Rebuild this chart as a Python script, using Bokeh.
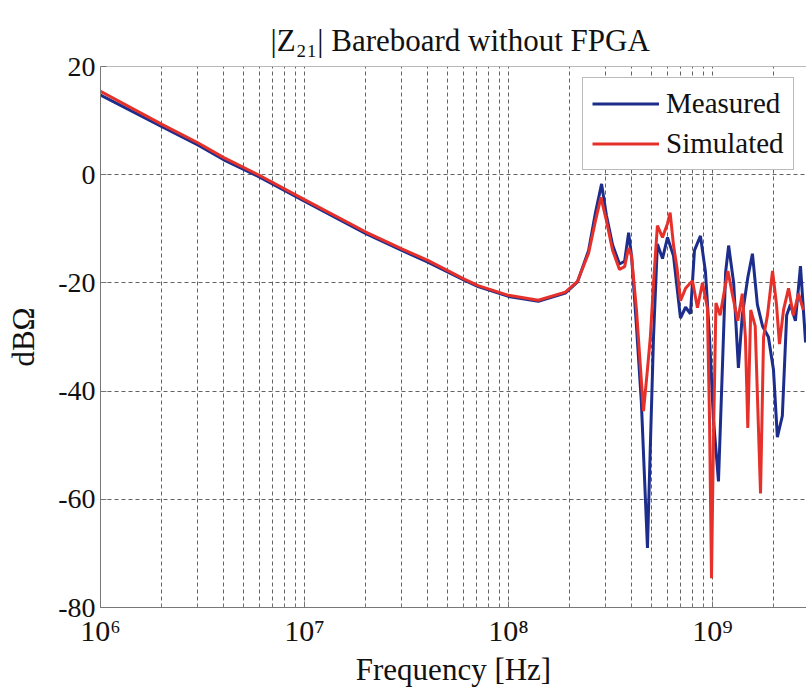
from bokeh.plotting import figure
from bokeh.models import FixedTicker, Legend, LegendItem, Span, Range1d
from bokeh.embed import file_html
from bokeh.resources import INLINE

# ---- data ----
freq_measured = [1.0e6, 2.0e6, 3.0e6, 4.0e6, 6.0e6, 1.0e7, 2.0e7, 3.0e7, 4.0e7, 6.0e7,
                 7.1e7, 1.0e8, 1.4e8, 1.9e8, 2.18e8, 2.47e8, 2.67e8, 2.86e8, 3.02e8, 3.24e8,
                 3.50e8, 3.71e8, 3.88e8, 4.01e8, 4.24e8, 4.48e8, 4.80e8, 4.96e8, 5.14e8, 5.37e8,
                 5.69e8, 6.02e8, 6.44e8, 6.97e8, 7.38e8, 7.80e8, 8.16e8, 8.73e8, 9.24e8, 9.67e8,
                 1.01e9, 1.07e9, 1.12e9, 1.16e9, 1.20e9, 1.27e9, 1.34e9, 1.40e9, 1.49e9, 1.57e9,
                 1.66e9, 1.76e9, 1.88e9, 1.99e9, 2.08e9, 2.20e9, 2.31e9, 2.41e9, 2.55e9, 2.70e9,
                 2.86e9]
db_measured = [14.7, 8.9, 5.5, 2.8, -0.4, -4.9, -10.9, -14.0, -16.1, -19.4,
               -20.7, -22.5, -23.4, -21.9, -19.8, -14.0, -7.0, -1.7, -7.5, -13.0,
               -16.5, -16.0, -10.7, -15.0, -28.0, -42.0, -69.0, -50.0, -30.0, -12.8,
               -15.5, -11.6, -15.0, -26.5, -24.5, -25.7, -14.0, -11.3, -18.0, -30.0,
               -45.0, -56.7, -35.0, -18.0, -13.1, -20.0, -35.7, -26.0, -19.0, -14.6,
               -24.0, -28.0, -30.0, -36.0, -48.5, -44.6, -26.0, -24.0, -27.0, -16.9,
               -31.0]

freq_simulated = [1.0e6, 2.0e6, 3.0e6, 4.0e6, 6.0e6, 1.0e7, 2.0e7, 3.0e7, 4.0e7, 6.0e7,
                  7.1e7, 1.0e8, 1.4e8, 1.9e8, 2.18e8, 2.47e8, 2.67e8, 2.84e8, 3.02e8, 3.24e8,
                  3.50e8, 3.71e8, 3.88e8, 4.01e8, 4.24e8, 4.48e8, 4.59e8, 4.80e8, 4.96e8, 5.14e8,
                  5.37e8, 5.69e8, 6.02e8, 6.20e8, 6.44e8, 6.70e8, 6.97e8, 7.38e8, 7.98e8, 8.44e8,
                  8.93e8, 9.44e8, 9.67e8, 9.89e8, 1.01e9, 1.04e9, 1.09e9, 1.19e9, 1.25e9, 1.33e9,
                  1.40e9, 1.45e9, 1.49e9, 1.54e9, 1.62e9, 1.72e9, 1.78e9, 1.86e9, 1.97e9, 2.06e9,
                  2.13e9, 2.23e9, 2.36e9, 2.49e9, 2.64e9, 2.79e9]
db_simulated = [15.4, 9.3, 5.9, 3.2, -0.1, -4.6, -10.6, -13.7, -15.8, -19.2,
                -20.5, -22.3, -23.2, -21.7, -19.7, -14.5, -8.5, -4.2, -8.5, -14.0,
                -17.5, -17.0, -13.5, -15.0, -25.0, -38.0, -43.7, -36.0, -30.0, -20.0,
                -9.4, -11.6, -9.0, -7.0, -13.0, -17.2, -23.3, -21.0, -19.6, -24.6,
                -20.0, -24.6, -45.0, -74.6, -50.0, -23.7, -26.0, -17.8, -22.0, -27.0,
                -22.0, -30.0, -46.8, -25.0, -28.0, -58.9, -30.0, -26.0, -17.8, -24.0,
                -31.3, -25.0, -21.0, -26.0, -22.0, -25.0]

x_major_ticks = [1e6, 1e7, 1e8, 1e9]
x_tick_labels = ["10\u2076", "10\u2077", "10\u2078", "10\u2079"]
x_minor_ticks = [2e6, 3e6, 4e6, 5e6, 6e6, 7e6, 8e6, 9e6,
                 2e7, 3e7, 4e7, 5e7, 6e7, 7e7, 8e7, 9e7,
                 2e8, 3e8, 4e8, 5e8, 6e8, 7e8, 8e8, 9e8,
                 2e9, 3e9, 4e9, 5e9, 6e9, 7e9, 8e9, 9e9]
y_ticks = [-80, -60, -40, -20, 0, 20]
y_tick_labels = ["-80", "-60", "-40", "-20", "0", "20"]

series_names = ["Measured", "Simulated"]
title_text = "|Z\u2082\u2081| Bareboard without FPGA"
x_label = "Frequency [Hz]"
y_label = "dB\u03a9"

FONT = "Liberation Serif"
BLUE = "#1c2d8c"
RED = "#e6312b"
GRID = "#636363"

p = figure(x_axis_type="log",
           x_range=Range1d(1e6, 2.89e9), y_range=Range1d(-80, 20),
           frame_width=706, frame_height=541,
           min_border_left=100, min_border_top=66, min_border_right=0, min_border_bottom=10,
           output_backend="svg", toolbar_location=None)

p.outline_line_color = None
p.background_fill_color = "white"
p.border_fill_color = "white"

# title
p.title.text = title_text
p.title.text_font = FONT
p.title.text_font_size = "31px"
p.title.text_font_style = "normal"
p.title.text_color = "#111111"
p.title.align = "left"
p.title.offset = 170
p.title.standoff = 18

# axes
xa = p.xaxis[0]
xa.ticker = FixedTicker(ticks=x_major_ticks, minor_ticks=x_minor_ticks)
xa.major_label_overrides = {t: l for t, l in zip(x_major_ticks, x_tick_labels)}
xa.axis_label = x_label
ya = p.yaxis[0]
ya.ticker = FixedTicker(ticks=y_ticks)
ya.major_label_overrides = {t: l for t, l in zip(y_ticks, y_tick_labels)}
ya.axis_label = y_label

for ax in (xa, ya):
    ax.axis_line_color = "#777777"
    ax.axis_line_width = 1
    ax.major_tick_in = 6
    ax.major_tick_out = 0
    ax.minor_tick_in = 3
    ax.minor_tick_out = 0
    ax.major_tick_line_color = "#777777"
    ax.minor_tick_line_color = "#777777"
    ax.major_label_text_font = FONT
    ax.major_label_text_color = "#111111"
    ax.axis_label_text_font = FONT
    ax.axis_label_text_font_style = "normal"
    ax.axis_label_text_color = "#111111"

xa.major_label_text_font_size = "30px"
xa.axis_label_text_font_size = "31px"
xa.major_label_standoff = 6
xa.axis_label_standoff = 2
ya.major_label_text_font_size = "28px"
ya.axis_label_text_font_size = "31px"
ya.major_label_standoff = 5
ya.axis_label_standoff = 14

# grid
p.xgrid.grid_line_color = GRID
p.xgrid.grid_line_dash = "4 3"
p.xgrid.grid_line_width = 1
p.xgrid.minor_grid_line_color = GRID
p.xgrid.minor_grid_line_dash = "4 3"
p.xgrid.minor_grid_line_width = 1
p.ygrid.grid_line_color = GRID
p.ygrid.grid_line_dash = "4 3"
p.ygrid.grid_line_width = 1

# top border of the box
p.add_layout(Span(location=20, dimension="width", line_color="#777777", line_width=1))

# data lines
r_meas = p.line(freq_measured, db_measured, line_color=BLUE, line_width=3)
r_sim = p.line(freq_simulated, db_simulated, line_color=RED, line_width=3)

legend = Legend(items=[LegendItem(label=series_names[0], renderers=[r_meas]),
                       LegendItem(label=series_names[1], renderers=[r_sim])],
                location=(482, 437),
                label_text_font=FONT, label_text_font_size="29px", label_text_color="#111111",
                glyph_width=67, glyph_height=31, label_height=31, label_width=118,
                label_standoff=7, spacing=7, padding=9, margin=0,
                border_line_color="#777777", border_line_width=1,
                background_fill_color="white", background_fill_alpha=1.0)
p.add_layout(legend)

open("out.html", "w").write(file_html(p, INLINE))
